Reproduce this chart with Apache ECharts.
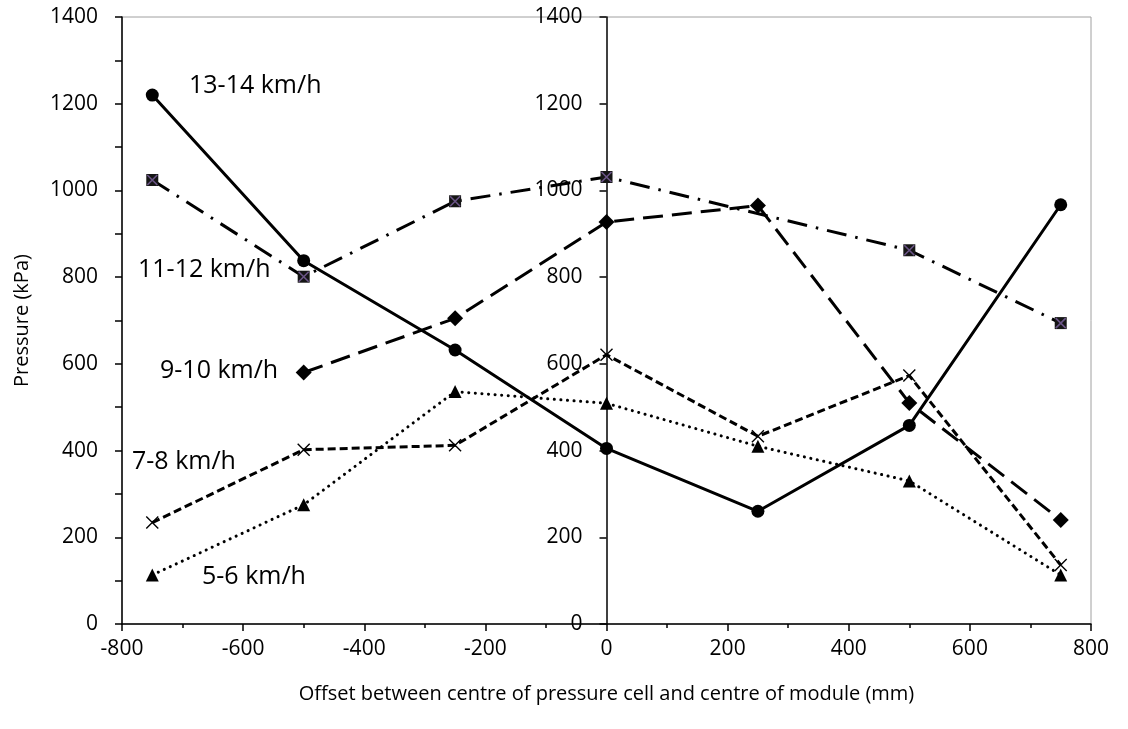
<!DOCTYPE html>
<html>
<head>
<meta charset="utf-8">
<script src="https://cdn.jsdelivr.net/npm/echarts@6/dist/echarts.min.js"></script>
<style>
html,body{margin:0;padding:0;background:#fff;}
#c{width:1128px;height:729px;}
</style>
</head>
<body>
<div id="c"></div>
<script>
// ---- data ----
const offsets = [-750, -500, -250, 0, 250, 500, 750];
const speed13_14 = [1220, 838, 632, 405, 260, 458, 967];
const speed11_12 = [1024, 801, 975, 1031, null, 862, 694];
const speed9_10  = [null, 580, 705, 927, 965, 510, 240];
const speed7_8   = [234, 402, 412, 621, 433, 573, 136];
const speed5_6   = [113, 275, 536, 509, 410, 330, 113];
const seriesNames = ['13-14 km/h', '11-12 km/h', '9-10 km/h', '7-8 km/h', '5-6 km/h'];
const xTitle = 'Offset between centre of pressure cell and centre of module (mm)';
const yTitle = 'Pressure (kPa)';

const pairs = arr => offsets.map((x, i) => [x, arr[i]]);
const FONT = 'Open Sans';
const black = '#000';
const plain = v => String(v);

const chart = echarts.init(document.getElementById('c'), null, {renderer: 'canvas'});

const baseLine = {type: 'line', animation: false, connectNulls: true, z: 3, xAxisIndex: 0, yAxisIndex: 0};

// plot area: left 122, right edge 1091; x = 0 sits at the middle
const gridL = 122, gridR = 37, W = 1128;
const midX = gridL + (W - gridR - gridL) / 2;

const option = {
  backgroundColor: '#fff',
  animation: false,
  grid: [
    {left: gridL, right: gridR, top: 17, bottom: 105, show: true, borderColor: '#a0a0a0', borderWidth: 1, backgroundColor: 'transparent'},
    {left: midX, right: gridR, top: 17, bottom: 105, show: false}
  ],
  xAxis: [
    {
      type: 'value', min: -800, max: 800, interval: 200, gridIndex: 0,
      name: xTitle, nameLocation: 'middle', nameGap: 60,
      nameTextStyle: {fontFamily: FONT, fontSize: 20, color: black},
      axisLine: {show: true, onZero: false, lineStyle: {color: black, width: 1.5}},
      axisTick: {show: true, length: 7, lineStyle: {color: black, width: 1.5}},
      minorTick: {show: true, splitNumber: 2, length: 4, lineStyle: {color: black, width: 1.5}},
      axisLabel: {fontFamily: FONT, fontSize: 21, color: black, margin: 15, formatter: plain},
      splitLine: {show: false}
    },
    {
      type: 'value', min: 0, max: 800, gridIndex: 1, show: false
    }
  ],
  yAxis: [
    {
      type: 'value', min: 0, max: 1400, interval: 200, position: 'left', gridIndex: 0,
      name: yTitle, nameLocation: 'middle', nameGap: 90,
      nameTextStyle: {fontFamily: FONT, fontSize: 20, color: black},
      axisLine: {show: true, onZero: false, lineStyle: {color: black, width: 1.5}},
      axisTick: {show: true, length: 7, lineStyle: {color: black, width: 1.5}},
      minorTick: {show: true, splitNumber: 2, length: 7, lineStyle: {color: black, width: 1.5}},
      axisLabel: {fontFamily: FONT, fontSize: 21, color: black, margin: 24, formatter: plain},
      splitLine: {show: false}
    },
    {
      type: 'value', min: 0, max: 1400, interval: 200, position: 'left', gridIndex: 1,
      axisLine: {show: true, onZero: false, lineStyle: {color: black, width: 1.5}},
      axisTick: {show: true, length: 7, lineStyle: {color: black, width: 1.5}},
      axisLabel: {fontFamily: FONT, fontSize: 21, color: black, margin: 24, formatter: plain},
      splitLine: {show: false}
    }
  ],
  series: [
    Object.assign({}, baseLine, {
      name: seriesNames[0], data: pairs(speed13_14),
      symbol: 'circle', symbolSize: 13,
      lineStyle: {color: black, width: 3, type: 'solid'},
      itemStyle: {color: black}
    }),
    Object.assign({}, baseLine, {
      name: seriesNames[1], data: pairs(speed11_12),
      symbol: 'rect', symbolSize: 12,
      lineStyle: {color: black, width: 3, type: [20, 9, 2.5, 9]},
      itemStyle: {color: '#151515'}
    }),
    {
      type: 'scatter', name: seriesNames[1] + ' x', animation: false, z: 5, xAxisIndex: 0, yAxisIndex: 0,
      data: pairs(speed11_12).filter(p => p[1] != null),
      symbol: 'path://M0,0L10,10M10,0L0,10', symbolSize: 10,
      itemStyle: {color: 'none', borderColor: '#8064A2', borderWidth: 1.6}
    },
    Object.assign({}, baseLine, {
      name: seriesNames[2], data: pairs(speed9_10),
      symbol: 'diamond', symbolSize: 16,
      lineStyle: {color: black, width: 3, type: [20, 9]},
      itemStyle: {color: black}
    }),
    Object.assign({}, baseLine, {
      name: seriesNames[3], data: pairs(speed7_8),
      symbol: 'path://M0,0L10,10M10,0L0,10', symbolSize: 12,
      lineStyle: {color: black, width: 3, type: [8, 4]},
      itemStyle: {color: 'none', borderColor: black, borderWidth: 1.4}
    }),
    Object.assign({}, baseLine, {
      name: seriesNames[4], data: pairs(speed5_6),
      symbol: 'triangle', symbolSize: 13,
      lineStyle: {color: black, width: 3, type: [0.1, 6.5], cap: 'round'},
      itemStyle: {color: black}
    })
  ],
  graphic: [
    {type: 'text', left: 189, top: 73, style: {text: seriesNames[0], font: '25px "Open Sans"', fill: black}},
    {type: 'text', left: 138, top: 257, style: {text: seriesNames[1], font: '25px "Open Sans"', fill: black}},
    {type: 'text', left: 160, top: 358, style: {text: seriesNames[2], font: '25px "Open Sans"', fill: black}},
    {type: 'text', left: 132, top: 449, style: {text: seriesNames[3], font: '25px "Open Sans"', fill: black}},
    {type: 'text', left: 202, top: 564, style: {text: seriesNames[4], font: '25px "Open Sans"', fill: black}}
  ]
};
chart.setOption(option);
</script>
</body>
</html>
